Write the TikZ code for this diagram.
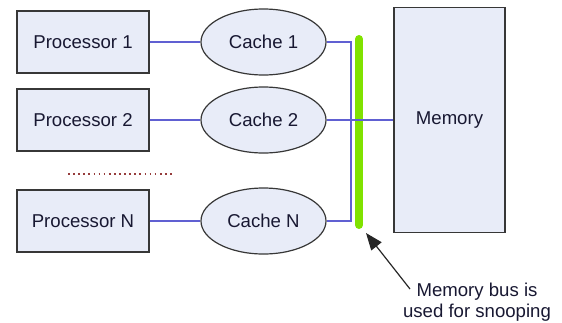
\documentclass[tikz,border=0pt]{standalone}
\usepackage{fontspec}
\setmainfont{Liberation Sans}
\usetikzlibrary{shapes.geometric,arrows.meta}
\definecolor{boxfill}{RGB}{232,236,248}
\definecolor{boxline}{RGB}{55,55,55}
\definecolor{wire}{RGB}{96,96,210}
\definecolor{busgreen}{RGB}{128,226,0}
\definecolor{txt}{RGB}{24,24,50}
\definecolor{dotc}{RGB}{150,60,60}
\tikzset{
  every node/.style={text=txt, font=\fontsize{18.6}{21}\selectfont},
  procbox/.style={draw=boxline, line width=1.4pt, fill=boxfill, rectangle,
    minimum width=132pt, minimum height=62pt, inner sep=0pt},
  cachebox/.style={draw=boxline, line width=1.2pt, fill=boxfill, ellipse,
    minimum width=125pt, minimum height=66pt, inner sep=0pt},
  membox/.style={draw=boxline, line width=1.4pt, fill=boxfill, rectangle,
    minimum width=111pt, minimum height=225pt, inner sep=0pt},
  wireline/.style={draw=wire, line width=2pt},
  busbar/.style={draw=busgreen, line width=8pt, line cap=round},
  pointer/.style={draw=black!85, line width=1.2pt, -{Triangle[length=17pt,width=13pt]}},
}
\begin{document}
\begin{tikzpicture}[x=1pt,y=-1pt]
\useasboundingbox (0,0) rectangle (562,322);

% processors
\node[procbox] (p1) at (83,42) {Processor 1};
\node[procbox] (p2) at (83,120) {Processor 2};
\node[procbox] (pn) at (83,221) {Processor N};

% caches
\node[cachebox] (c1) at (263.5,42) {Cache 1};
\node[cachebox] (c2) at (263.5,120) {Cache 2};
\node[cachebox] (cn) at (263.5,221) {Cache N};

% memory
\node[membox] (mem) at (449.5,120) {Memory};

% snooping bus
\coordinate (busTop) at (359,39);
\coordinate (busBot) at (359,225);
\draw[busbar] (busTop) -- (busBot);

% processor to cache links
\draw[wireline] (p1.east) -- (c1.west);
\draw[wireline] (p2.east) -- (c2.west);
\draw[wireline] (pn.east) -- (cn.west);

% cache connections onto the bus
\coordinate (wTop) at (351,42);
\coordinate (wBot) at (351,221);
\draw[wireline] (c1.east) -- (wTop) -- (wBot) -- (cn.east);
\draw[wireline] (c2.east) -- (mem.west);

% ellipsis between processors
\coordinate (dA) at (68,174);
\coordinate (dB) at (174,174);
\draw[dotc, line width=1.7pt, dash pattern=on 1.7pt off 3.4pt] (dA) -- (dB);

% annotation
\node[align=center] (note) at (477,302) {Memory bus is\\used for snooping};
\coordinate (tail) at (410,289);
\coordinate (tip) at (366,233);
\draw[pointer] (tail) -- (tip);
\end{tikzpicture}
\end{document}
